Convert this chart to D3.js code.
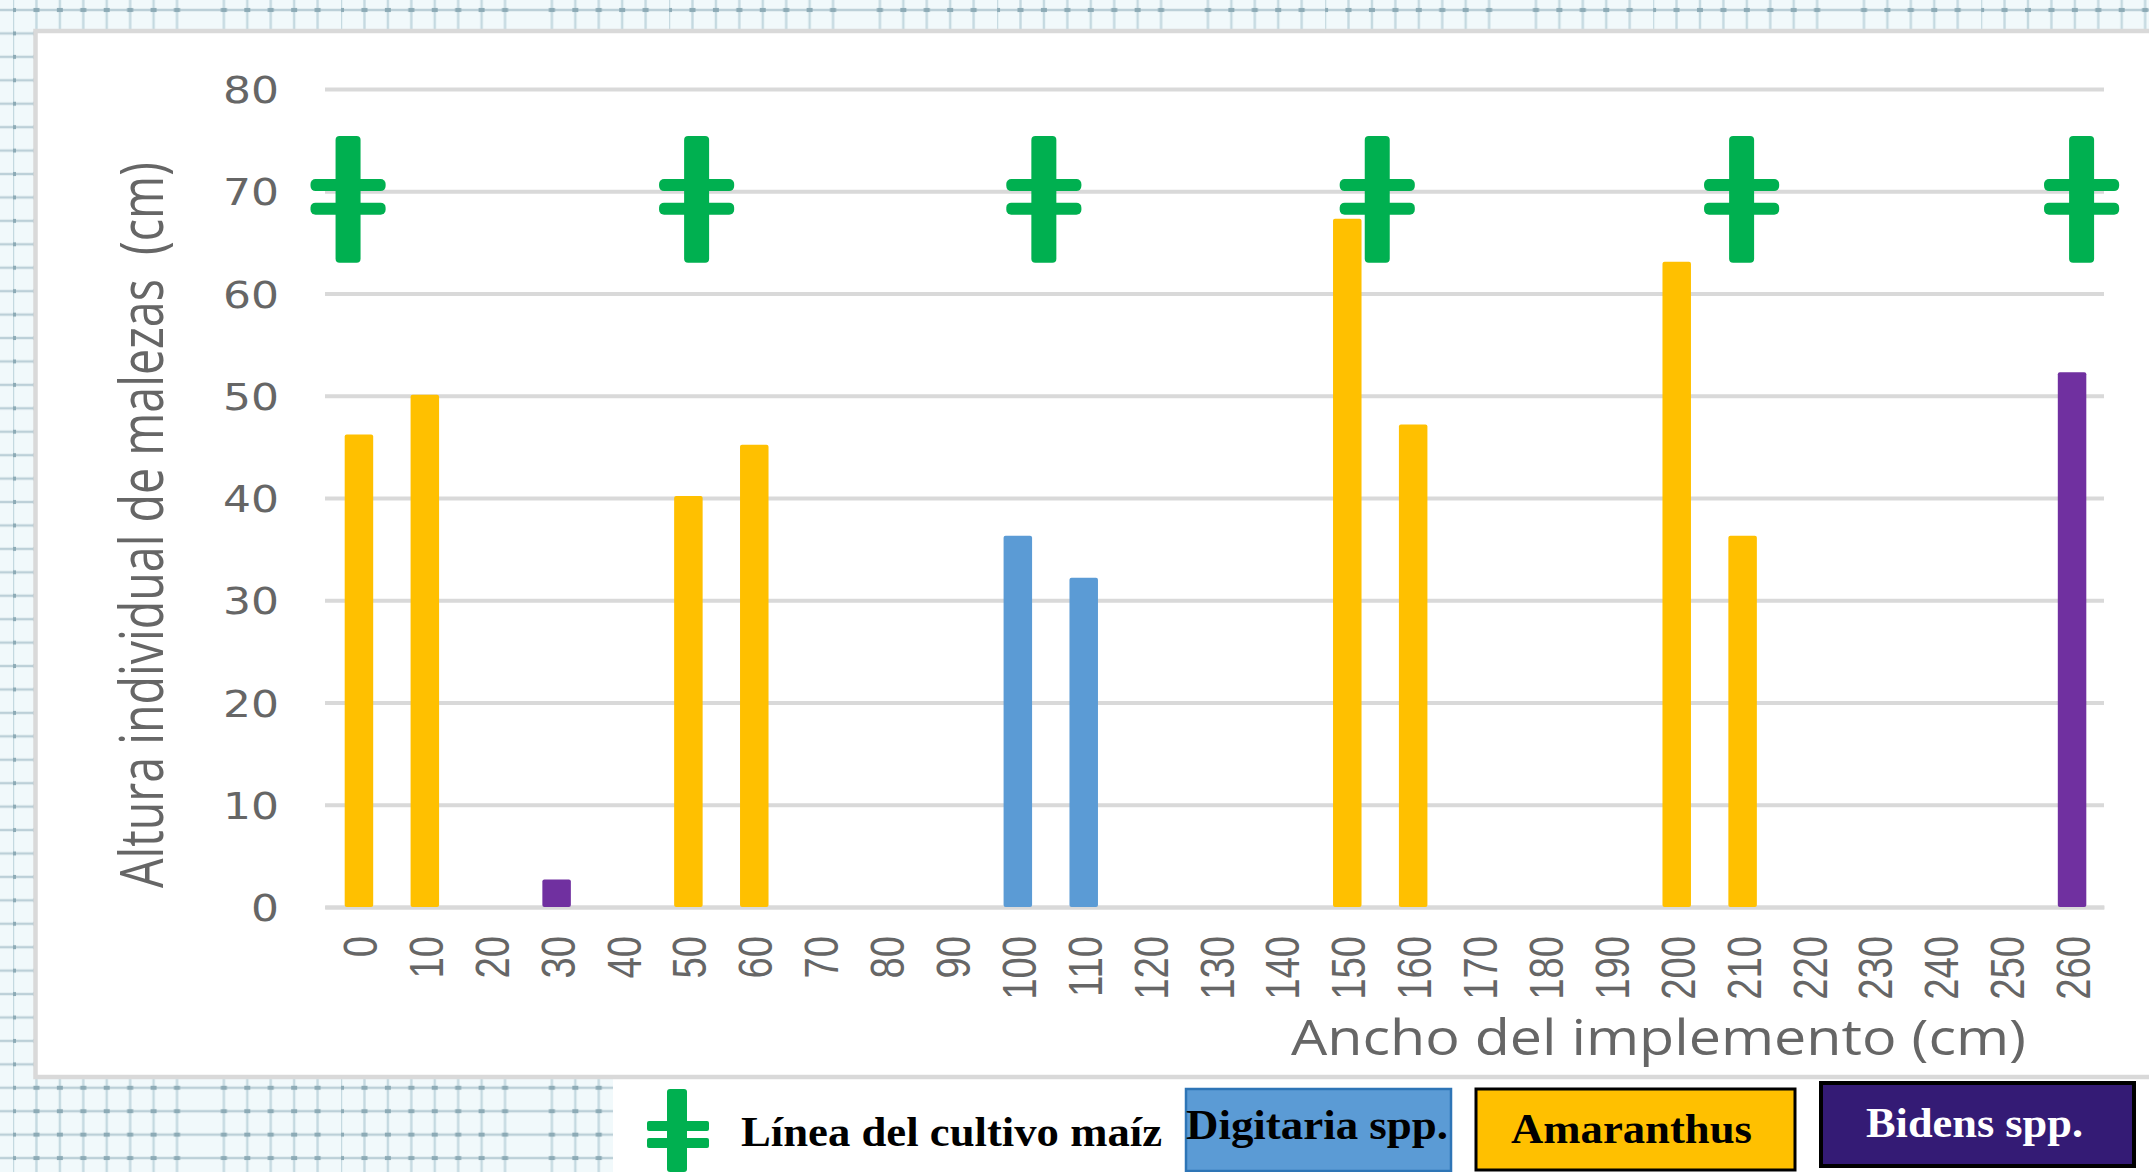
<!DOCTYPE html>
<html lang="es">
<head>
<meta charset="utf-8">
<title>Altura individual de malezas</title>
<script src="https://cdn.jsdelivr.net/npm/d3@7"></script>
<style>
html,body{margin:0;padding:0;background:#fff}
svg{display:block}
</style>
</head>
<body>
<svg id="chart" width="2149" height="1172"></svg>
<script>
// Implement width categories (cm)
const widths = d3.range(0, 261, 10);
// Individual weed height (cm) at each sampled width, per species
const amaranthus = [[0,46.2],[10,50.1],[50,40.2],[60,45.2],[150,67.3],[160,47.2],[200,63.1],[210,36.3]];
const digitaria  = [[100,36.3],[110,32.2]];
const bidens     = [[30,2.7],[260,52.3]];
// Maize rows across the implement width (cm)
const maizeRows = [-1.5, 51.4, 104.1, 154.7, 210, 261.6];
const stemSpan = [63, 75.4];
const leafHeights = [70.6, 68.3];
const yTicks = [0,10,20,30,40,50,60,70,80];
const colors = {amaranthus:"#ffc000", digitaria:"#5b9bd5", bidens:"#7030a0", maize:"#00b050"};

const svg = d3.select("#chart");
const W = 2149, H = 1172;
const plot = {left:325, right:2104, top:89, bottom:907};

// Paper-like grid backdrop
const defs = svg.append("defs");
const step = 23.43, period = step*14;
const tile = defs.append("pattern").attr("id","paper").attr("patternUnits","userSpaceOnUse")
  .attr("width",period).attr("height",step).attr("x",13).attr("y",10);
tile.append("rect").attr("width",period).attr("height",step).attr("fill","#f1f9fb");
tile.append("rect").attr("width",period).attr("height",2.4).attr("y",-1.2).attr("fill","#bcd0d8");
tile.append("rect").attr("width",period).attr("height",2.4).attr("y",step-1.2).attr("fill","#bcd0d8");
const gridCols = d3.range(14).filter(i => i !== 8);
tile.selectAll("rect.v").data(gridCols).join("rect").attr("class","v")
  .attr("x",i=>i*step-1.2).attr("width",2.4).attr("height",step).attr("fill","#c4d9e0");
tile.selectAll("rect.n").data(gridCols).join("rect").attr("class","n")
  .attr("x",i=>i*step-3).attr("y",-2).attr("width",6).attr("height",4).attr("fill","#8dabb6");
tile.selectAll("rect.n2").data(gridCols).join("rect").attr("class","n2")
  .attr("x",i=>i*step-3).attr("y",step-2).attr("width",6).attr("height",4).attr("fill","#8dabb6");

svg.append("rect").attr("width",W).attr("height",H).attr("fill","url(#paper)");
svg.append("rect").attr("x",613).attr("y",1076).attr("width",W-613).attr("height",H-1076).attr("fill","#fff");
svg.append("rect").attr("x",35.5).attr("y",31).attr("width",W).attr("height",1046)
  .attr("fill","#fff").attr("stroke","#d9d9d9").attr("stroke-width",4.5);

// Scales
const x = d3.scaleBand().domain(widths).range([plot.left,plot.right]).paddingInner(0);
const cm = d3.scaleLinear().domain([0,260]).range([x(0)+x.bandwidth()/2, x(260)+x.bandwidth()/2]);
const y = d3.scaleLinear().domain([0,80]).range([plot.bottom,plot.top]);

// Horizontal gridlines and value labels
const yAxis = d3.axisLeft(y).tickValues(yTicks).tickSize(-(plot.right-plot.left)).tickPadding(46);
const gy = svg.append("g").attr("transform",`translate(${plot.left},0)`).call(yAxis);
gy.select(".domain").remove();
gy.selectAll(".tick line").attr("stroke","#d9d9d9").attr("stroke-width",4);
gy.selectAll(".tick text")
  .attr("font-family","'DejaVu Sans'").attr("font-size",38).attr("fill","#666")
  .attr("textLength",d=>d === 0 ? 28 : 56).attr("lengthAdjust","spacingAndGlyphs").attr("dy","0.36em");

// Width categories along the bottom
const xAxis = d3.axisBottom(x).tickSize(0).tickPadding(0);
const gx = svg.append("g").attr("transform",`translate(0,${plot.bottom})`).call(xAxis);
gx.select(".domain").attr("stroke","#d9d9d9").attr("stroke-width",4);
gx.selectAll(".tick text")
  .attr("font-family","'Liberation Sans'").attr("font-size",49).attr("fill","#666")
  .attr("text-anchor","end").attr("dy",0).attr("y",0)
  .attr("transform","translate(19,29) rotate(-90) scale(0.78,1)");

// Bars per species
const barW = 28.5;
[["amaranthus",amaranthus],["digitaria",digitaria],["bidens",bidens]].forEach(([name,rows])=>{
  svg.append("g").selectAll("rect").data(rows).join("rect")
    .attr("x",d=>x(d[0])+x.bandwidth()/2-barW/2+1)
    .attr("y",d=>y(d[1]))
    .attr("width",barW)
    .attr("height",d=>y(0)-y(d[1]))
    .attr("rx",2)
    .attr("fill",colors[name]);
});

// Maize row markers
const stemW = 25, leafH = 12, leafHalf = 5.7;
const rows = svg.append("g").selectAll("g").data(maizeRows).join("g");
rows.append("rect")
  .attr("x",d=>cm(d)-stemW/2).attr("y",y(stemSpan[1]))
  .attr("width",stemW).attr("height",y(stemSpan[0])-y(stemSpan[1]))
  .attr("rx",4).attr("fill",colors.maize);
leafHeights.forEach(h=>{
  rows.append("rect")
    .attr("x",d=>cm(d-leafHalf)).attr("y",y(h)-leafH/2)
    .attr("width",d=>cm(d+leafHalf)-cm(d-leafHalf)).attr("height",leafH)
    .attr("rx",5).attr("fill",colors.maize);
});

// Axis titles
svg.append("text").attr("x",1291).attr("y",1055)
  .attr("font-family","'Open Sans'").attr("font-size",50).attr("fill","#666")
  .attr("textLength",735).attr("lengthAdjust","spacingAndGlyphs")
  .text("Ancho del implemento (cm)");
// The vertical title is condensed with a scale so its run fits the plot height
const yTitle = svg.append("text")
  .attr("font-family","'Open Sans'").attr("font-size",60).attr("fill","#666")
  .style("white-space","pre")
  .text("Altura individual de malezas  (cm)");
const yTitleScale = 726 / yTitle.node().getComputedTextLength();
yTitle.attr("transform",`translate(163,888) rotate(-90) scale(${yTitleScale},1)`);

// Legend: maize marker
const lg = svg.append("g");
lg.append("rect").attr("x",667).attr("y",1089).attr("width",20).attr("height",83).attr("rx",3).attr("fill",colors.maize);
[1121,1138].forEach(t=>lg.append("rect").attr("x",647).attr("y",t).attr("width",62).attr("height",10).attr("rx",2).attr("fill",colors.maize));
lg.append("text").attr("x",741).attr("y",1146)
  .attr("font-family","'Liberation Serif'").attr("font-weight","bold").attr("font-size",43).attr("fill","#000")
  .attr("textLength",421).attr("lengthAdjust","spacingAndGlyphs").text("Línea del cultivo maíz");

// Legend: species boxes
const boxes = [
  {label:"Digitaria spp.", x:1186, y:1089, w:265, h:82, fill:colors.digitaria, stroke:"#2e75b6", sw:2.5, tx:1186, ty:1139, tw:262, color:"#000"},
  {label:"Amaranthus", x:1476, y:1089, w:319, h:81, fill:colors.amaranthus, stroke:"#000", sw:3, tx:1511, ty:1143, tw:241, color:"#000"},
  {label:"Bidens spp.", x:1821, y:1083, w:313, h:83, fill:"#341b75", stroke:"#000", sw:4, tx:1866, ty:1137, tw:217, color:"#fff"}
];
lg.selectAll("rect.box").data(boxes).join("rect").attr("class","box")
  .attr("x",d=>d.x).attr("y",d=>d.y).attr("width",d=>d.w).attr("height",d=>d.h)
  .attr("fill",d=>d.fill).attr("stroke",d=>d.stroke).attr("stroke-width",d=>d.sw);
lg.selectAll("text.box").data(boxes).join("text").attr("class","box")
  .attr("x",d=>d.tx).attr("y",d=>d.ty)
  .attr("font-family","'Liberation Serif'").attr("font-weight","bold").attr("font-size",43)
  .attr("fill",d=>d.color)
  .attr("textLength",d=>d.tw).attr("lengthAdjust","spacingAndGlyphs")
  .text(d=>d.label);
</script>
</body>
</html>
